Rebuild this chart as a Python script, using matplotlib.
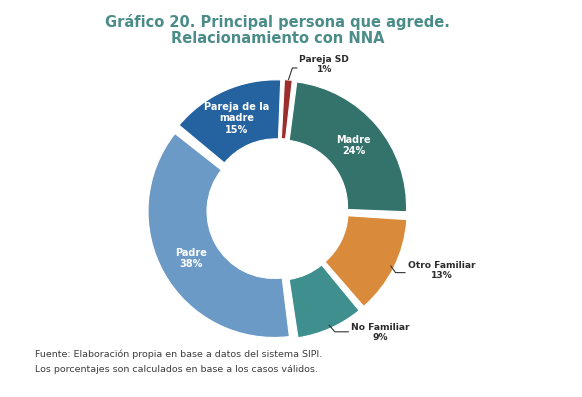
import numpy as np
import matplotlib
matplotlib.use("Agg")
import matplotlib.pyplot as plt

categories = ["Pareja SD", "Madre", "Otro Familiar", "No Familiar", "Padre", "Pareja de la\nmadre"]
values = [1, 24, 13, 9, 38, 15]
colors = ["#9C2F2E", "#33736B", "#D98A3A", "#3F8F8E", "#6C9AC6", "#2462A0"]
inside = [False, True, False, False, True, True]

W, H = 582, 397
fig = plt.figure(figsize=(W / 100, H / 100), dpi=100)
ax = fig.add_axes([0, 0, 1, 1])

cx, cy = 277.5, H - 209.5
R = 126
ring = 59
expl = 4
pad = 0.8
start = 87

wedges, _ = ax.pie(values, colors=colors, startangle=start, counterclock=False,
                   radius=R, center=(cx, cy), explode=[expl] * len(values),
                   wedgeprops=dict(width=ring, edgecolor="white", linewidth=0.8))
for w, v in zip(wedges, values):
    if v >= 2:
        w.set_theta1(w.theta1 + pad)
        w.set_theta2(w.theta2 - pad)
ax.set_xlim(0, W)
ax.set_ylim(0, H)
ax.set_aspect("auto")
ax.axis("off")

font = "DejaVu Sans"
total = sum(values)
acc = 0
# leader geometry: (start radius factor, elbow dx, elbow dy, horizontal length, text dy)
leaders = {
    "Pareja SD": (1.0, 4, 12, 5, 3.5),
    "Otro Familiar": (0.97, 5, -7, 10, 2),
    "No Familiar": (0.97, 6, -7, 14, -1),
}
for cat, v, ins in zip(categories, values, inside):
    mid = start - 360 * (acc + v / 2) / total
    acc += v
    t = np.deg2rad(mid)
    ux, uy = np.cos(t), np.sin(t)
    label = f"{cat}\n{v}%"
    if ins:
        r = 0.76 * R + expl
        ax.text(cx + r * ux, cy + r * uy, label, ha="center", va="center",
                color="white", fontsize=7, fontweight="bold", family=font,
                linespacing=1.15)
    else:
        rf, ex, ey, hl, tdy = leaders[cat]
        r = rf * R + expl
        x0, y0 = cx + r * ux, cy + r * uy
        x1, y1 = x0 + ex, y0 + ey
        x2 = x1 + hl
        ax.plot([x0, x1, x2], [y0, y1, y1], color="#333333", lw=0.8,
                solid_capstyle="butt")
        ax.text(x2 + 2, y1 + tdy, label, ha="left", va="center",
                color="#2b2b2b", fontsize=6.6, fontweight="bold",
                family=font, linespacing=1.1, multialignment="center")

title_color = "#4A8C88"
ax.text(277.5, H - 21.5, "Gráfico 20. Principal persona que agrede.", ha="center",
        va="center", color=title_color, fontsize=10.5, fontweight="bold", family=font)
ax.text(277.5, H - 38.5, "Relacionamiento con NNA", ha="center",
        va="center", color=title_color, fontsize=10.5, fontweight="bold", family=font)

ax.text(35, H - 354, "Fuente: Elaboración propia en base a datos del sistema SIPI.",
        ha="left", va="center", color="#3c3c3c", fontsize=6.8, family=font)
ax.text(35, H - 369, "Los porcentajes son calculados en base a los casos válidos.",
        ha="left", va="center", color="#3c3c3c", fontsize=6.8, family=font)

fig.savefig("out.png", dpi=100, facecolor="white")
